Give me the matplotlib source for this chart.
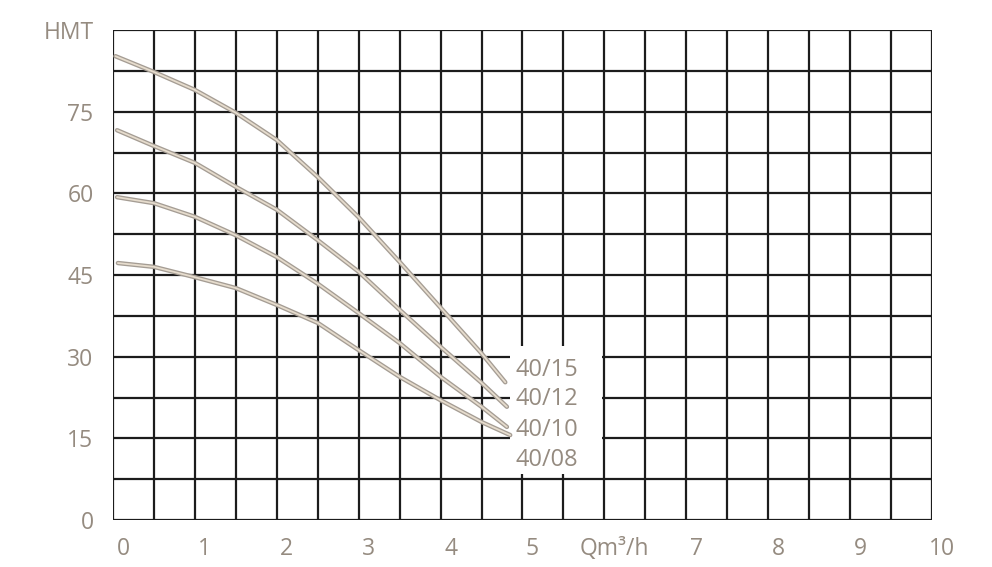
import numpy as np
import matplotlib
matplotlib.use('Agg')
import matplotlib.pyplot as plt
from matplotlib.patches import Rectangle
from matplotlib.transforms import ScaledTranslation

# flow (m3/h) and head (m)
q_15 = [0.03, 0.5, 1.0, 1.5, 2.0, 2.5, 3.0, 3.5, 4.0, 4.5, 4.79]
h_15 = [85.2, 82.3, 79.0, 74.8, 69.8, 63.0, 55.6, 47.4, 39.0, 30.6, 25.3]

q_12 = [0.05, 0.5, 1.0, 1.5, 2.0, 2.5, 3.0, 3.5, 4.0, 4.5, 4.81]
h_12 = [71.6, 68.7, 65.6, 61.2, 57.0, 51.4, 45.6, 38.6, 31.8, 25.2, 20.8]

q_10 = [0.05, 0.5, 1.0, 1.5, 2.0, 2.5, 3.0, 3.5, 4.0, 4.5, 4.81]
h_10 = [59.3, 58.2, 55.7, 52.3, 48.3, 43.4, 38.0, 32.5, 26.3, 20.8, 17.1]

q_08 = [0.06, 0.5, 1.0, 1.5, 2.0, 2.5, 3.0, 3.5, 4.0, 4.5, 4.85]
h_08 = [47.2, 46.5, 44.6, 42.6, 39.5, 36.2, 31.2, 26.3, 22.0, 18.0, 15.6]

names = ['40/15', '40/12', '40/10', '40/08']
name_h = [27.6, 22.2, 16.6, 11.1]

xticks = [0, 1, 2, 3, 4, 5, 6, 7, 8, 9, 10]
xlabels = ['0', '1', '2', '3', '4', '5', 'Qm\u00b3/h', '7', '8', '9', '10']
yticks = [0, 15, 30, 45, 60, 75, 90]
ylabels = ['0', '15', '30', '45', '60', '75', 'HMT']

txt_c = '#958b80'
grid_c = '#1c1c1c'

plt.rcParams['font.family'] = ['Open Sans', 'DejaVu Sans']

fig = plt.figure(figsize=(9.92, 5.67), dpi=100)
ax = fig.add_axes([0.1139, 0.0829, 0.8256, 0.8641])
ax.set_xlim(0, 10)
ax.set_ylim(0, 90)

# grid, 0.5 x 7.5
for gx in np.arange(0, 10.01, 0.5):
    ax.axvline(gx, color=grid_c, lw=1.6, zorder=1)
for gy in np.arange(0, 90.01, 7.5):
    ax.axhline(gy, color=grid_c, lw=1.6, zorder=1)

# blank patch behind the curve names
ax.add_patch(Rectangle((4.85, 8.4), 1.12, 23.5, facecolor='white',
                       edgecolor='none', zorder=2))

for q, h in [(q_15, h_15), (q_12, h_12), (q_10, h_10), (q_08, h_08)]:
    ax.plot(q, h, color='#a59d94', lw=3.2, solid_capstyle='round', zorder=3)
    ax.plot(q, h, color='#e6dccd', lw=1.3, solid_capstyle='round', zorder=4)

for n, yy in zip(names, name_h):
    ax.text(4.92, yy, n, color=txt_c, fontsize=17, va='center', ha='left',
            zorder=5)

for s in ax.spines.values():
    s.set_visible(False)

ax.set_xticks(xticks)
ax.set_xticklabels(xlabels)
ax.set_yticks(yticks)
ax.set_yticklabels(ylabels)
ax.tick_params(length=0, colors=txt_c, labelsize=16.5)
ax.tick_params(axis='x', pad=12)
ax.tick_params(axis='y', pad=14)
off = ScaledTranslation(0.10, 0, fig.dpi_scale_trans)
for lab in ax.get_xticklabels():
    lab.set_transform(lab.get_transform() + off)

fig.savefig('out.png', dpi=100, facecolor='white')
